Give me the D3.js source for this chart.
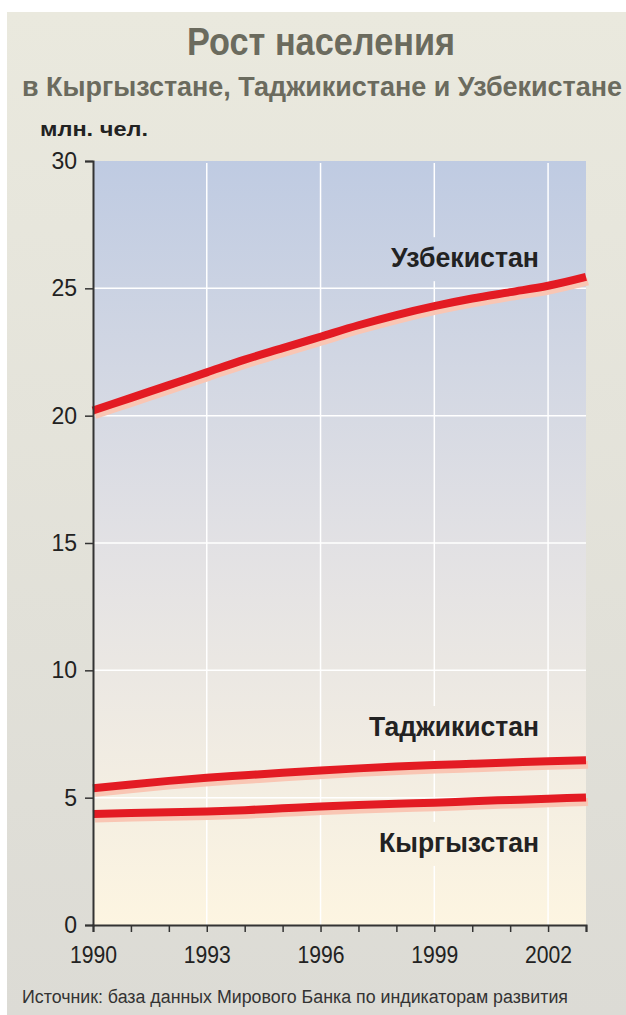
<!DOCTYPE html>
<html>
<head>
<meta charset="utf-8">
<script src="https://cdnjs.cloudflare.com/ajax/libs/d3/7.8.5/d3.min.js"></script>
<style>
  body { margin: 0; background: #fff; }
  text { font-family: "Liberation Sans", Arial, sans-serif; }
</style>
</head>
<body>
<div id="chart"></div>
<script>
// data (million people)
var years = [1990,1991,1992,1993,1994,1995,1996,1997,1998,1999,2000,2001,2002,2003];
var uzbekistan = [20.2,20.7,21.2,21.7,22.2,22.65,23.1,23.55,23.95,24.3,24.6,24.85,25.1,25.45];
var tajikistan = [5.37,5.52,5.66,5.78,5.88,5.98,6.07,6.15,6.22,6.28,6.33,6.38,6.43,6.47];
var kyrgyzstan = [4.36,4.4,4.43,4.46,4.51,4.58,4.65,4.71,4.76,4.8,4.86,4.91,4.96,5.01];
var seriesNames = ["Узбекистан","Таджикистан","Кыргызстан"];
var yTicks = [0,5,10,15,20,25,30];
var xLabelYears = [1990,1993,1996,1999,2002];

var W = 626, H = 1015;
var svg = d3.select("#chart").append("svg")
  .attr("width", W).attr("height", H);

var defs = svg.append("defs");
var pg = defs.append("linearGradient").attr("id","panelGrad")
  .attr("x1",0).attr("y1",0).attr("x2",0).attr("y2",1);
pg.append("stop").attr("offset","0%").attr("stop-color","#eae9de");
pg.append("stop").attr("offset","100%").attr("stop-color","#dcdbd5");

var x = d3.scaleLinear().domain([1990,2003]).range([93,586]);
var y = d3.scaleLinear().domain([0,30]).range([925,161]);

var bg = defs.append("linearGradient").attr("id","plotGrad")
  .attr("gradientUnits","userSpaceOnUse")
  .attr("x1",0).attr("y1",y(30)).attr("x2",0).attr("y2",y(0));
bg.append("stop").attr("offset","0%").attr("stop-color","#bfcbe2");
bg.append("stop").attr("offset","50%").attr("stop-color","#e2e1e4");
bg.append("stop").attr("offset","100%").attr("stop-color","#fdf5e1");

// outer panel
svg.append("rect").attr("x",7).attr("y",12).attr("width",W-7).attr("height",H-12)
  .attr("fill","url(#panelGrad)");

// titles
svg.append("text").attr("x",321).attr("y",55).attr("text-anchor","middle")
  .attr("font-size",39).attr("font-weight","bold").attr("fill","#6b6b5e")
  .attr("textLength",268).attr("lengthAdjust","spacingAndGlyphs")
  .text("Рост населения");
svg.append("text").attr("x",22).attr("y",96)
  .attr("font-size",27).attr("font-weight","bold").attr("fill","#6b6b5e")
  .attr("textLength",600).attr("lengthAdjust","spacingAndGlyphs")
  .text("в Кыргызстане, Таджикистане и Узбекистане");
svg.append("text").attr("x",40).attr("y",136)
  .attr("font-size",20).attr("font-weight","bold").attr("fill","#222")
  .attr("textLength",108).attr("lengthAdjust","spacingAndGlyphs")
  .text("млн. чел.");

// plot area
svg.append("rect").attr("x",x(1990)).attr("y",y(30))
  .attr("width",x(2003)-x(1990)).attr("height",y(0)-y(30))
  .attr("fill","url(#plotGrad)");

// grid
svg.append("g").selectAll("line").data(yTicks.filter(function(d){return d>0 && d<30;}))
  .enter().append("line")
  .attr("x1",x(1990)).attr("x2",x(2003))
  .attr("y1",function(d){return y(d);}).attr("y2",function(d){return y(d);})
  .attr("stroke","#fff").attr("stroke-width",1.5);
svg.append("g").selectAll("line").data(xLabelYears.filter(function(d){return d>1990;}))
  .enter().append("line")
  .attr("y1",y(30)+2).attr("y2",y(0))
  .attr("x1",function(d){return x(d);}).attr("x2",function(d){return x(d);})
  .attr("stroke","#fff").attr("stroke-width",1.5);

// lines
var allSeries = [uzbekistan, tajikistan, kyrgyzstan];
var line = d3.line()
  .x(function(d,i){return x(years[i]);})
  .y(function(d){return y(d);})
  .curve(d3.curveMonotoneX);

var lines = svg.append("g");
allSeries.forEach(function(s){
  lines.append("path").attr("d",line(s)).attr("fill","none")
    .attr("stroke","#f9c6b4").attr("stroke-width",8)
    .attr("transform","translate(2,4.5)");
});
allSeries.forEach(function(s){
  lines.append("path").attr("d",line(s)).attr("fill","none")
    .attr("stroke","#e31b23").attr("stroke-width",8);
});

// series labels, with a patch of plot background behind them
var labelPos = [
  {v:25.83, name:seriesNames[0]},
  {v:7.42,  name:seriesNames[1]},
  {v:2.87,  name:seriesNames[2]}
];
var labelLen = [148, 170, 160];
var labels = svg.append("g");
labelPos.forEach(function(l, i){
  var by = y(l.v);
  labels.append("rect").attr("x",380).attr("y",by-30).attr("width",163).attr("height",44)
    .attr("fill","url(#plotGrad)");
  labels.append("text").attr("x",539).attr("y",by).attr("text-anchor","end")
    .attr("font-size",27).attr("font-weight","bold").attr("fill","#222")
    .attr("textLength",labelLen[i]).attr("lengthAdjust","spacingAndGlyphs")
    .text(l.name);
});

// axes
var yAxis = d3.axisLeft(y).tickValues(yTicks).tickSize(8).tickPadding(8);
var gy = svg.append("g").attr("transform","translate("+x(1990)+",0)").call(yAxis);
gy.select(".domain").attr("stroke","#333").attr("stroke-width",2);
gy.selectAll(".tick line").attr("stroke","#333").attr("stroke-width",1.5);
gy.selectAll(".tick text").attr("font-size",23).attr("fill","#222")
  .attr("font-family","Liberation Sans, Arial, sans-serif");

var xAxis = d3.axisBottom(x).tickValues(years).tickSize(7).tickPadding(15)
  .tickFormat(function(d){return xLabelYears.indexOf(d) >= 0 ? d : "";});
var gx = svg.append("g").attr("transform","translate(0,"+y(0)+")").call(xAxis);
gx.select(".domain").attr("stroke","#333").attr("stroke-width",2);
gx.selectAll(".tick line").attr("stroke","#333").attr("stroke-width",1.5);
gx.selectAll(".tick text").attr("font-size",23).attr("fill","#222")
  .attr("font-family","Liberation Sans, Arial, sans-serif")
  .attr("textLength",function(d){return xLabelYears.indexOf(d) >= 0 ? 47 : null;})
  .attr("lengthAdjust","spacingAndGlyphs");

// source
svg.append("text").attr("x",22).attr("y",1003)
  .attr("font-size",18).attr("fill","#333")
  .attr("textLength",546).attr("lengthAdjust","spacingAndGlyphs")
  .text("Источник: база данных Мирового Банка по индикаторам развития");
</script>
</body>
</html>
